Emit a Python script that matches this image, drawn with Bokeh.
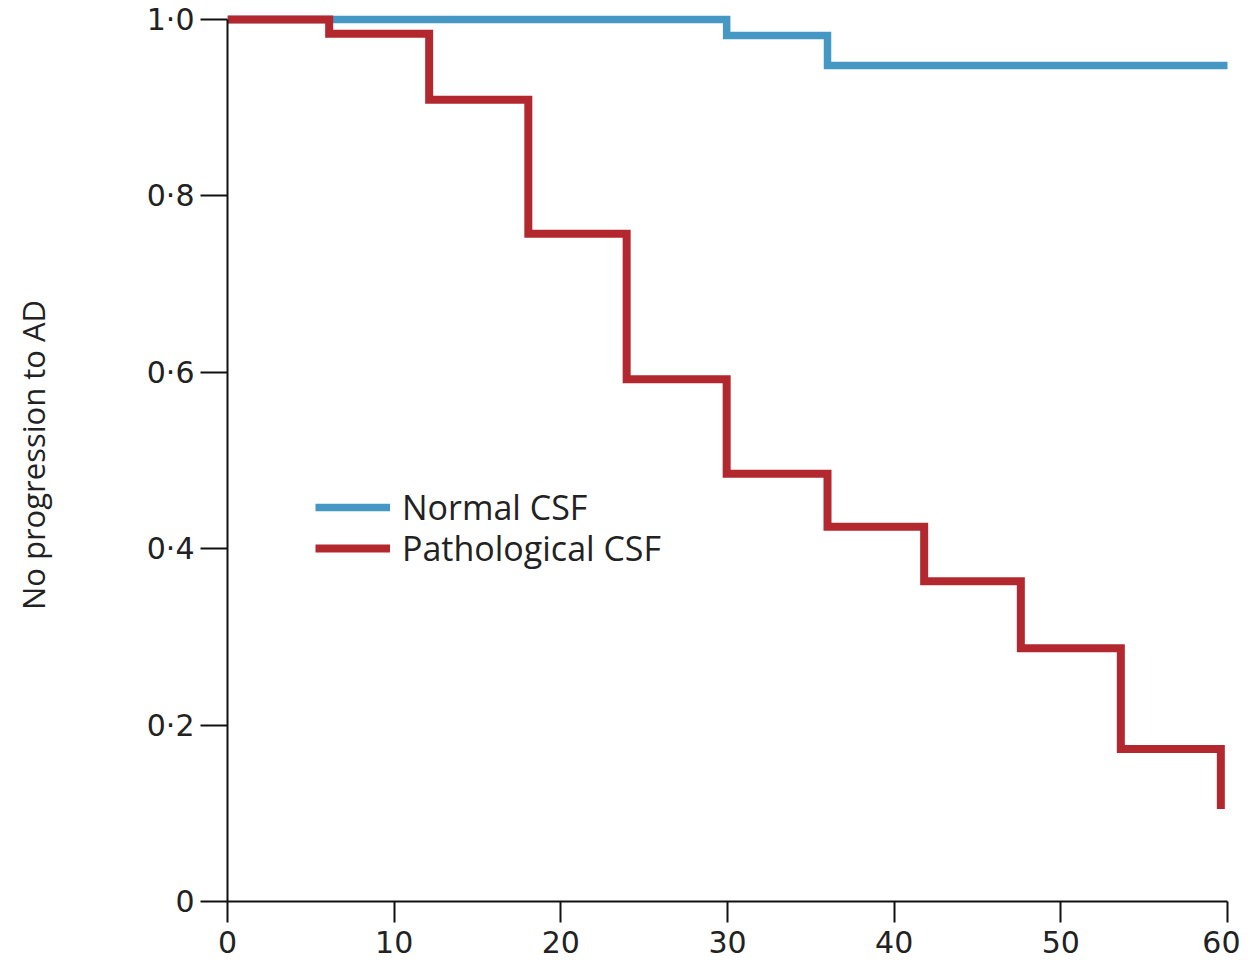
from bokeh.plotting import figure
from bokeh.models import FixedTicker, Legend, LegendItem, Range1d
from bokeh.embed import file_html
from bokeh.resources import INLINE

# Data (months vs proportion without progression to AD)
normal_t = [0, 29.95, 36.0, 60.0]
normal_s = [1.0, 0.982, 0.948, 0.948]

path_t = [0, 6.1, 12.1, 18.05, 23.95, 29.95, 36.0, 41.8, 47.6, 53.6, 59.6]
path_s = [1.0, 0.984, 0.909, 0.757, 0.592, 0.485, 0.425, 0.363, 0.287, 0.173, 0.105]

x_ticks = [0, 10, 20, 30, 40, 50, 60]
y_ticks = [0, 0.2, 0.4, 0.6, 0.8, 1.0]
y_tick_labels = ["0", "0·2", "0·4", "0·6", "0·8", "1·0"]

series_labels = ["Normal CSF", "Pathological CSF"]

BLUE = "#4597c4"
RED = "#b3282e"

p = figure(
    frame_width=1007, frame_height=893,
    x_range=Range1d(0, 60.42), y_range=Range1d(0, 1.0125),
    output_backend="svg", toolbar_location=None,
    min_border_left=227, min_border_top=8, min_border_right=6, min_border_bottom=64,
)
p.outline_line_color = None
p.grid.visible = False
p.background_fill_color = "white"
p.border_fill_color = "white"

r_norm = p.step(normal_t, normal_s, mode="after", line_color=BLUE, line_width=7.5,
                line_join="miter", line_cap="butt")
r_path = p.step(path_t, path_s, mode="after", line_color=RED, line_width=8,
                line_join="miter", line_cap="butt")

# axes
for ax in (p.xaxis[0], p.yaxis[0]):
    ax.axis_line_color = "#111111"
    ax.axis_line_width = 2
    ax.major_tick_line_color = "#111111"
    ax.major_tick_line_width = 2
    ax.minor_tick_line_color = None
    ax.major_tick_in = 0
    ax.major_label_text_color = "#222222"
    ax.major_label_text_font = "DejaVu Sans"

p.xaxis.ticker = FixedTicker(ticks=x_ticks)
p.xaxis.bounds = (0, 60)
p.xaxis.major_tick_out = 21
p.xaxis.major_label_standoff = 8
p.xaxis.major_label_text_font_size = "30px"

p.yaxis.ticker = FixedTicker(ticks=y_ticks)
p.yaxis.bounds = (0, 1.0)
p.yaxis.major_tick_out = 27
p.yaxis.major_label_standoff = 6
p.yaxis.major_label_text_font_size = "30px"
p.yaxis.major_label_overrides = {t: l for t, l in zip(y_ticks, y_tick_labels)}
p.yaxis.axis_label = "No progression to AD"
p.yaxis.axis_label_text_font = "Open Sans"
p.yaxis.axis_label_text_font_style = "normal"
p.yaxis.axis_label_text_font_size = "31px"
p.yaxis.axis_label_text_color = "#222222"
p.yaxis.axis_label_standoff = 90

common = dict(
    glyph_width=75, glyph_height=50, label_standoff=12,
    label_text_font="Open Sans", label_text_font_size="34px",
    label_text_color="#222222", label_height=50,
    spacing=0, padding=0, margin=0,
    border_line_color=None, background_fill_alpha=0,
)
leg1 = Legend(items=[LegendItem(label=series_labels[0], renderers=[r_norm])],
              location=(88, 369), **common)
leg2 = Legend(items=[LegendItem(label=series_labels[1], renderers=[r_path])],
              location=(88, 328), **common)
p.add_layout(leg1)
p.add_layout(leg2)

open("out.html", "w").write(file_html(p, INLINE))
